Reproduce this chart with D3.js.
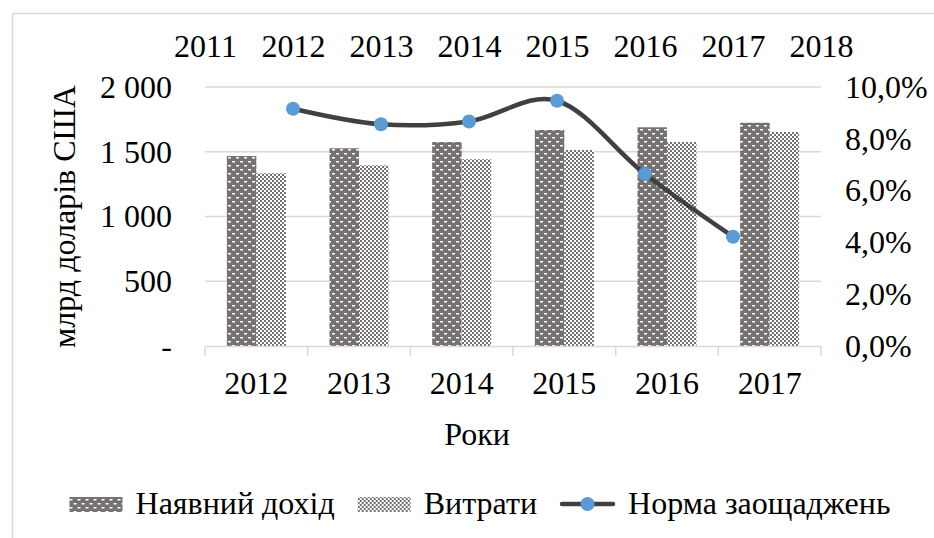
<!DOCTYPE html>
<html>
<head>
<meta charset="utf-8">
<script src="https://cdn.jsdelivr.net/npm/d3@7"></script>
<style>
  html, body { margin: 0; padding: 0; background: #ffffff; }
  svg { display: block; }
</style>
</head>
<body>
<svg id="chart" width="934" height="538"></svg>
<script>
// ---- data ----
const years = ["2012", "2013", "2014", "2015", "2016", "2017"];
const income = [1467, 1527, 1575, 1668, 1689, 1724];      // Наявний дохід
const spending = [1334, 1395, 1442, 1514, 1575, 1653];    // Витрати
const savingRate = [9.16, 8.56, 8.67, 9.47, 6.64, 4.22];  // Норма заощаджень, %
const topYears = [2011, 2012, 2013, 2014, 2015, 2016, 2017, 2018];
const leftTicks = [0, 500, 1000, 1500, 2000];
const leftTickLabels = ["-", "500", "1 000", "1 500", "2 000"];
const rightTicks = [0, 2, 4, 6, 8, 10];
const rightTickLabels = ["0,0%", "2,0%", "4,0%", "6,0%", "8,0%", "10,0%"];
const seriesNames = ["Наявний дохід", "Витрати", "Норма заощаджень"];
const yTitle = "млрд доларів США";
const xTitle = "Роки";

// ---- layout ----
const W = 934, H = 538;
const plot = { left: 205, right: 821, top: 87, bottom: 346 };
const FS = "32px";
const FF = '"Liberation Serif", "Times New Roman", serif';
const grey = "#767171";
const gridColor = "#d9d9d9";

const svg = d3.select("#chart");

function styleText(sel) {
  sel.style("font-family", FF).style("font-size", FS).attr("fill", "#000");
}

// patterns
const defs = svg.append("defs");
const p1 = defs.append("pattern").attr("id", "patDark")
  .attr("patternUnits", "userSpaceOnUse").attr("width", 8).attr("height", 8);
p1.append("rect").attr("width", 8).attr("height", 8).attr("fill", grey);
p1.append("rect").attr("x", 0).attr("y", 1).attr("width", 3).attr("height", 1.5).attr("fill", "#fff");
p1.append("rect").attr("x", 4).attr("y", 5).attr("width", 3).attr("height", 1.5).attr("fill", "#fff");

const p2 = defs.append("pattern").attr("id", "patLight")
  .attr("patternUnits", "userSpaceOnUse").attr("width", 4).attr("height", 4);
p2.append("rect").attr("width", 4).attr("height", 4).attr("fill", "#fff");
p2.append("rect").attr("x", 0).attr("y", 0).attr("width", 2).attr("height", 2).attr("fill", grey);
p2.append("rect").attr("x", 2).attr("y", 2).attr("width", 2).attr("height", 2).attr("fill", grey);

// chart border
svg.append("rect").attr("x", 12.5).attr("y", 13.5)
  .attr("width", W + 10).attr("height", H + 10)
  .attr("fill", "none").attr("stroke", gridColor).attr("stroke-width", 1.5);

// scales
const x = d3.scaleBand().domain(years).range([plot.left, plot.right]).paddingInner(0).paddingOuter(0);
const xTop = d3.scaleLinear().domain([2011, 2018]).range([plot.left, plot.right]);
const yL = d3.scaleLinear().domain([0, 2000]).range([plot.bottom, plot.top]);
const yR = d3.scaleLinear().domain([0, 10]).range([plot.bottom, plot.top]);

// gridlines
svg.append("g").selectAll("line").data(leftTicks.filter(d => d > 0)).join("line")
  .attr("x1", plot.left).attr("x2", plot.right)
  .attr("y1", d => yL(d)).attr("y2", d => yL(d))
  .attr("stroke", gridColor).attr("stroke-width", 1.5);

// bars
const barW = x.bandwidth() / 3.48;
const gBars = svg.append("g");
years.forEach((yr, i) => {
  const cx = x(yr) + x.bandwidth() / 2;
  gBars.append("rect").attr("x", cx - barW).attr("y", yL(income[i]))
    .attr("width", barW).attr("height", yL(0) - yL(income[i]))
    .attr("fill", "url(#patDark)");
  gBars.append("rect").attr("x", cx).attr("y", yL(spending[i]))
    .attr("width", barW).attr("height", yL(0) - yL(spending[i]))
    .attr("fill", "url(#patLight)");
});

// bottom axis
const axB = svg.append("g").attr("transform", `translate(0,${plot.bottom})`)
  .call(d3.axisBottom(x).tickSize(0).tickPadding(25));
axB.select(".domain").attr("stroke", gridColor).attr("stroke-width", 1.5);
styleText(axB.selectAll(".tick text"));
const bounds = years.map(d => x(d)).concat([plot.right]);
axB.append("g").selectAll("line").data(bounds).join("line")
  .attr("x1", d => d).attr("x2", d => d).attr("y1", 0).attr("y2", 10)
  .attr("stroke", gridColor).attr("stroke-width", 1.5);

// top axis (labels only)
const axT = svg.append("g").attr("transform", `translate(0,${plot.top})`)
  .call(d3.axisTop(xTop).tickValues(topYears).tickFormat(d3.format("d")).tickSize(0).tickPadding(30));
axT.select(".domain").remove();
styleText(axT.selectAll(".tick text"));

// left axis
const axL = svg.append("g").attr("transform", `translate(172,0)`)
  .call(d3.axisLeft(yL).tickValues(leftTicks).tickFormat((d, i) => leftTickLabels[i]).tickSize(0).tickPadding(0));
axL.select(".domain").remove();
styleText(axL.selectAll(".tick text"));

// right axis
const axR = svg.append("g").attr("transform", `translate(845,0)`)
  .call(d3.axisRight(yR).tickValues(rightTicks).tickFormat((d, i) => rightTickLabels[i]).tickSize(0).tickPadding(0));
axR.select(".domain").remove();
styleText(axR.selectAll(".tick text"));

// line
const pts = years.map((yr, i) => [xTop(+yr), yR(savingRate[i])]);
svg.append("path").datum(pts)
  .attr("d", d3.line().curve(d3.curveCardinal.tension(0)))
  .attr("fill", "none").attr("stroke", "#404040").attr("stroke-width", 4.5)
  .attr("stroke-linecap", "round");
svg.append("g").selectAll("circle").data(pts).join("circle")
  .attr("cx", d => d[0]).attr("cy", d => d[1]).attr("r", 7)
  .attr("fill", "#5b9bd5");

// axis titles
styleText(svg.append("text").attr("transform", `translate(75,${(plot.top + plot.bottom) / 2}) rotate(-90)`)
  .attr("text-anchor", "middle").text(yTitle));
styleText(svg.append("text").attr("x", 477).attr("y", 445)
  .attr("text-anchor", "middle").text(xTitle));

// legend
const leg = svg.append("g");
const legY = 514;
const items = [];
let cur = 0;
seriesNames.forEach((name, i) => {
  const g = leg.append("g");
  const swW = i === 2 ? 55 : 53;
  if (i < 2) {
    g.append("rect").attr("x", 0).attr("y", -17).attr("width", swW).attr("height", 15)
      .attr("fill", i === 0 ? "url(#patDark)" : "url(#patLight)");
  } else {
    g.append("line").attr("x1", 2).attr("x2", swW - 2).attr("y1", -10).attr("y2", -10)
      .attr("stroke", "#404040").attr("stroke-width", 4.5).attr("stroke-linecap", "round");
    g.append("circle").attr("cx", swW / 2).attr("cy", -10).attr("r", 7).attr("fill", "#5b9bd5");
  }
  const t = g.append("text").attr("x", swW + 13).attr("y", 0).text(name);
  styleText(t);
  const tw = t.node().getComputedTextLength();
  items.push({ g, off: cur });
  cur += swW + 13 + tw + 23;
});
const total = cur - 23;
const startX = 480 - total / 2;
items.forEach(it => it.g.attr("transform", `translate(${startX + it.off},${legY})`));
</script>
</body>
</html>
